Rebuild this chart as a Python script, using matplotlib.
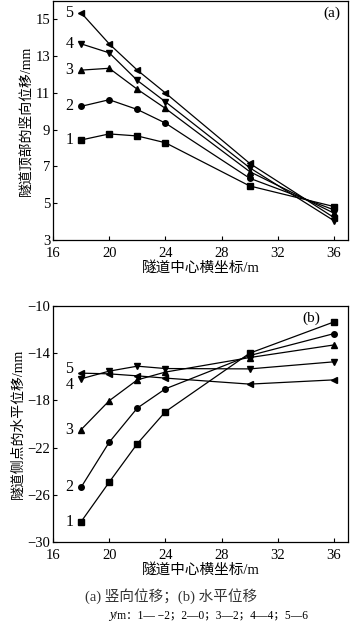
import matplotlib
matplotlib.use("Agg")
from matplotlib import pyplot as plt

plt.rcParams['font.family'] = ['Liberation Serif', 'Noto Sans CJK SC']

x = [18, 20, 22, 24, 30, 36]
series_names = ['1', '2', '3', '4', '5']
markers = ['s', 'o', '^', 'v', '<']

# (a) vertical displacement at tunnel crown, mm
vert_1 = [8.44, 8.77, 8.66, 8.29, 5.94, 4.82]
vert_2 = [10.27, 10.63, 10.10, 9.36, 6.36, 4.64]
vert_3 = [12.24, 12.34, 11.20, 10.16, 6.72, 4.46]
vert_4 = [13.67, 13.18, 11.68, 10.52, 6.93, 4.05]
vert_5 = [15.36, 13.67, 12.24, 11.00, 7.17, 4.22]

# (b) horizontal displacement at tunnel side, mm
horiz_1 = [-28.28, -24.93, -21.67, -18.96, -14.00, -11.35]
horiz_2 = [-25.36, -21.55, -18.65, -17.02, -14.20, -12.34]
horiz_3 = [-20.48, -18.03, -16.26, -15.60, -14.37, -13.30]
horiz_4 = [-16.17, -15.52, -15.10, -15.30, -15.33, -14.73]
horiz_5 = [-15.69, -15.75, -15.92, -16.11, -16.62, -16.26]

vert = [vert_1, vert_2, vert_3, vert_4, vert_5]
horiz = [horiz_1, horiz_2, horiz_3, horiz_4, horiz_5]

W, H = 350, 627
fig = plt.figure(figsize=(W / 100, H / 100), dpi=100)


def box(left, top, right, bottom):
    return [left / W, 1 - bottom / H, (right - left) / W, (bottom - top) / H]


ax1 = fig.add_axes(box(53, 1, 348, 240))
ax2 = fig.add_axes(box(53, 306, 348, 542))

label_dy_a = [0, 0, 0, 0, 0]
label_dy_b = [0, 0, 0, -0.5, 0.35]

for ax, data, ylim, yticks, ylabel, tag, tag_x, dys in (
        (ax1, vert, (3, 16), range(3, 16, 2), '隧道顶部的竖向位移/mm', '(a)', 0.975, label_dy_a),
        (ax2, horiz, (-30, -10), range(-30, -9, 4), '隧道侧点的水平位移/mm', '(b)', 0.905, label_dy_b)):
    for vals, m, name, dy in zip(data, markers, series_names, dys):
        ax.plot(x, vals, color='black', linewidth=0.9, marker=m, markersize=4,
                markerfacecolor='black', markeredgecolor='black')
        ax.text(17.45, vals[0] + dy, name, fontsize=11.5, ha='right', va='center')
    ax.set_xlim(16, 37)
    ax.set_ylim(*ylim)
    ax.set_xticks(range(16, 37, 4))
    ax.set_yticks(list(yticks))
    ax.tick_params(direction='in', labelsize=10.5, length=3, width=0.8, pad=2)
    ax.tick_params(axis='x', pad=5)
    for s in ax.spines.values():
        s.set_linewidth(0.9)
    ax.set_ylabel(ylabel, fontsize=10, labelpad=2)
    ax.set_xlabel('隧道中心横坐标/m', fontsize=10.5, labelpad=1)
    ax.text(tag_x, 0.975, tag, transform=ax.transAxes, ha='right', va='top', fontsize=11)

fig.text(171 / W, 1 - 596 / H, '(a) 竖向位移；(b) 水平位移', fontsize=10.5, ha='center',
         va='center', color='#333333')
fig.text(109 / W, 1 - 615 / H, 'y', fontsize=9.5, ha='left', va='center', style='italic')
fig.text(114 / W, 1 - 615 / H, '/m：1— −2；2—0；3—2；4—4；5—6', fontsize=8.3,
         ha='left', va='center')

fig.savefig('out.png', dpi=100)
